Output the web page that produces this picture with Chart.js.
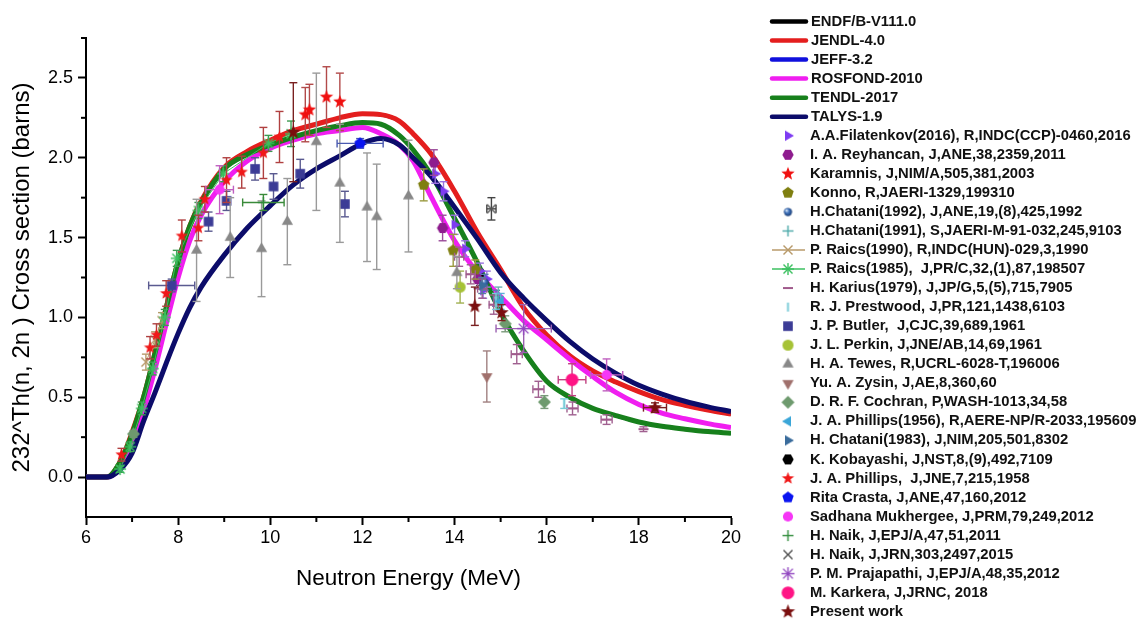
<!DOCTYPE html>
<html><head><meta charset="utf-8">
<script src="https://cdn.jsdelivr.net/npm/chart.js@4.4.1/dist/chart.umd.min.js"></script>
<style>html,body{margin:0;padding:0;background:#fff;}#wrap{position:relative;width:1142px;height:620px;}</style>
</head><body><div id="wrap"><canvas id="c" width="1142" height="620"></canvas></div>
<script>
// ---------- evaluated curves (common energy grid, MeV) ----------
const energyGrid = [6, 6.45, 6.75, 7.0, 7.25, 7.5, 7.75, 8.0, 8.25, 8.5, 9.0, 9.5, 10, 10.5, 11, 11.5, 12, 12.4, 12.8, 13.1, 13.5, 14, 14.5, 15, 15.5, 16, 16.5, 17, 17.5, 18, 18.5, 19, 19.5, 20];
const endfB8   = [0,0,0.1,0.28,0.5,0.78,1.07,1.35,1.57,1.73, 1.94,2.04,2.11,2.17,2.21,2.25,2.275,2.27,2.23,2.15, 2.02,1.79,1.53,1.30,1.06,0.89,0.76,0.665,0.595,0.535, 0.485,0.45,0.42,0.395];
const jendl40  = [0,0,0.1,0.28,0.5,0.78,1.07,1.35,1.57,1.73, 1.94,2.04,2.11,2.17,2.21,2.25,2.275,2.27,2.23,2.15, 2.02,1.79,1.53,1.30,1.06,0.89,0.76,0.665,0.595,0.535, 0.485,0.45,0.42,0.395];
const jeff32   = [0,0,0.1,0.27,0.5,0.78,1.07,1.35,1.57,1.72, 1.93,2.02,2.08,2.13,2.17,2.2,2.22,2.21,2.14,2.05, 1.89,1.62,1.34,1.03,0.79,0.60,0.50,0.43,0.385,0.345, 0.318,0.30,0.285,0.275];
const rosfond  = [0,0,0.06,0.2,0.42,0.68,0.97,1.25,1.48,1.64, 1.85,1.98,2.06,2.11,2.15,2.17,2.19,2.15,2.08,1.98, 1.75,1.48,1.28,1.13,0.98,0.86,0.74,0.63,0.53,0.455, 0.40,0.365,0.335,0.31];
const tendl    = [0,0,0.1,0.27,0.5,0.78,1.07,1.35,1.57,1.72, 1.93,2.02,2.08,2.13,2.17,2.2,2.22,2.21,2.14,2.05, 1.89,1.62,1.34,1.03,0.79,0.60,0.50,0.43,0.385,0.345, 0.318,0.30,0.285,0.275];
const talys    = [0,0,0.05,0.15,0.35,0.53,0.72,0.9,1.06,1.19, 1.39,1.56,1.70,1.83,1.93,2.01,2.09,2.12,2.08,2.0, 1.88,1.69,1.49,1.28,1.12,0.98,0.85,0.74,0.65,0.575, 0.52,0.475,0.44,0.41];

// ---------- experimental data: [E (MeV), sigma (b), dSigma, dE] ----------
const filatenkov = [[13.58,1.90,0.06,0],[13.76,1.79,0.06,0],[14.0,1.58,0.06,0],[14.23,1.43,0.05,0],[14.55,1.29,0.05,0],[14.7,1.24,0.05,0],[14.62,1.17,0.05,0]];
const reyhancan  = [[13.55,1.97,0.08,0],[13.74,1.56,0.08,0],[14.5,1.24,0.06,0]];
const karamnis   = [[10.76,2.27,0.17,0],[10.85,2.30,0.16,0],[11.22,2.38,0.19,0],[11.51,2.35,0.18,0]];
const konno      = [[13.33,1.83,0.1,0],[13.97,1.42,0.1,0],[14.45,1.30,0.06,0]];
const chatani92  = [[14.65,1.22,0.05,0],[14.9,1.12,0.05,0]];
const chatani91  = [[14.95,1.13,0.06,0]];
const raics90    = [[7.3,0.72,0.05,0],[7.5,0.86,0.05,0],[7.65,0.98,0.05,0]];
const raics85    = [[6.74,0.05,0.02,0],[6.96,0.19,0.03,0],[7.21,0.43,0.04,0],[7.45,0.68,0.04,0],[7.71,1.0,0.05,0],[7.97,1.37,0.05,0],[8.44,1.67,0.05,0],[8.98,1.90,0.05,0],[9.96,2.09,0.05,0],[10.45,2.15,0.08,0]];
const karius     = [[14.1,1.38,0.06,0.1],[14.35,1.27,0.06,0.1],[14.6,1.18,0.06,0.1],[14.85,1.08,0.06,0.1],[15.35,0.77,0.06,0.12],[15.82,0.55,0.05,0.12],[16.56,0.43,0.04,0.12],[17.3,0.36,0.03,0.12],[18.1,0.30,0.015,0]];
const prestwood  = [[16.38,0.46,0.03,0],[14.9,1.1,0.05,0]];
const butler     = [[7.86,1.20,0.04,0.5],[8.66,1.60,0.06,0],[9.05,1.73,0.06,0],[9.67,1.93,0.07,0],[10.07,1.82,0.08,0],[10.65,1.90,0.09,0],[11.62,1.71,0.08,0]];
const perkin     = [[14.12,1.19,0.1,0]];
const tewes      = [[8.4,1.42,0.32,0],[9.13,1.50,0.25,0],[9.81,1.43,0.3,0],[10.37,1.60,0.27,0],[11.0,2.10,0.43,0],[11.51,1.84,0.37,0],[12.1,1.69,0.34,0],[12.31,1.63,0.33,0],[13.0,1.76,0.35,0],[14.05,1.28,0.1,0]];
const zysin      = [[14.7,0.63,0.16,0]];
const cochran    = [[7.03,0.27,0.02,0],[15.1,0.96,0.05,0],[15.95,0.47,0.04,0]];
const phillips56 = [[15.0,1.10,0.05,0]];
const chatani83  = [[14.6,1.20,0.05,0]];
const kobayashi  = [[14.55,1.25,0.05,0]];
const phillips58 = [[6.77,0.14,0.04,0],[7.39,0.81,0.07,0],[7.53,0.89,0.07,0],[7.74,1.15,0.08,0],[8.08,1.51,0.1,0],[8.44,1.56,0.08,0],[8.58,1.74,0.08,0],[9.05,1.86,0.14,0],[9.38,1.91,0.1,0],[9.85,2.03,0.16,0],[10.2,2.13,0.16,0]];
const crasta     = [[11.95,2.09,0.03,0.5]];
const mukherjee  = [[8.9,1.80,0.15,0.3],[17.3,0.64,0.1,0.35]];
const naikEPJ    = [[9.85,1.72,0.05,0.45]];
const naikJRN    = [[14.8,1.68,0.07,0.1]];
const prajapathi = [[15.5,0.93,0.15,0.6]];
const karkera    = [[16.55,0.61,0.1,0.3]];
const presentWork= [[10.5,2.16,0.31,0],[14.44,1.07,0.12,0],[15.02,1.03,0.05,0],[18.35,0.435,0.03,0.25]];

// ---------- ticks ----------
const xTicks = [6, 8, 10, 12, 14, 16, 18, 20];
const xMinorTicks = [7, 9, 11, 13, 15, 17, 19];
const yTicks = [0, 0.5, 1.0, 1.5, 2.0, 2.5];
const yMinorTicks = [0.25, 0.75, 1.25, 1.75, 2.25, 2.75];

// ---------- marker images ----------
function makeMarker(shape, col, size) {
  const s = Math.ceil(size + 4);
  const c = document.createElement('canvas');
  c.width = s; c.height = s;
  const g = c.getContext('2d');
  const cx = s / 2, cy = s / 2, r = size / 2;
  g.fillStyle = col; g.strokeStyle = col; g.lineWidth = 1.4;
  const poly = (n, rot, rr) => {
    g.beginPath();
    for (let i = 0; i < n; i++) {
      const a = rot + i * 2 * Math.PI / n;
      const px = cx + rr * Math.cos(a), py = cy + rr * Math.sin(a);
      if (i) g.lineTo(px, py); else g.moveTo(px, py);
    }
    g.closePath(); g.fill();
  };
  const seg = (x1, y1, x2, y2) => { g.beginPath(); g.moveTo(x1, y1); g.lineTo(x2, y2); g.stroke(); };
  switch (shape) {
    case 'triR': poly(3, 0, r); break;
    case 'triL': poly(3, Math.PI, r); break;
    case 'triU': poly(3, -Math.PI / 2, r); break;
    case 'triD': poly(3, Math.PI / 2, r); break;
    case 'hex': poly(6, 0, r * 0.95); break;
    case 'pent': poly(5, -Math.PI / 2, r); break;
    case 'diamond': poly(4, 0, r); break;
    case 'square': g.fillRect(cx - r * 0.8, cy - r * 0.8, r * 1.6, r * 1.6); break;
    case 'circle': g.beginPath(); g.arc(cx, cy, r * 0.85, 0, 2 * Math.PI); g.fill(); break;
    case 'sphere': {
      const gr = g.createRadialGradient(cx - r * 0.3, cy - r * 0.3, 0.5, cx, cy, r * 0.8);
      gr.addColorStop(0, '#cfe0f5'); gr.addColorStop(0.45, col); gr.addColorStop(1, '#1c3c70');
      g.fillStyle = gr; g.beginPath(); g.arc(cx, cy, r * 0.75, 0, 2 * Math.PI); g.fill(); break;
    }
    case 'star5': {
      g.beginPath();
      for (let i = 0; i < 10; i++) {
        const a = -Math.PI / 2 + i * Math.PI / 5;
        const rr = i % 2 ? r * 0.42 : r;
        const px = cx + rr * Math.cos(a), py = cy + rr * Math.sin(a);
        if (i) g.lineTo(px, py); else g.moveTo(px, py);
      }
      g.closePath(); g.fill(); break;
    }
    case 'plus': seg(cx - r, cy, cx + r, cy); seg(cx, cy - r, cx, cy + r); break;
    case 'cross': { const d = r * 0.75; seg(cx - d, cy - d, cx + d, cy + d); seg(cx - d, cy + d, cx + d, cy - d); break; }
    case 'asterisk': {
      const d = r * 0.75;
      seg(cx - d, cy - d, cx + d, cy + d); seg(cx - d, cy + d, cx + d, cy - d);
      seg(cx, cy - r, cx, cy + r); seg(cx - r, cy, cx + r, cy); break;
    }
    case 'dash': g.lineWidth = 2; seg(cx - r, cy, cx + r, cy); break;
    case 'vbar': g.lineWidth = 2; seg(cx, cy - r, cx, cy + r); break;
  }
  return c;
}

// ---------- datasets ----------
// [label, values, colour, draw order, line width]
const curveDefs = [
  ['ENDF/B-V111.0', endfB8,  '#000000', 6, 3.5],
  ['JENDL-4.0',     jendl40, '#E41E1E', 4, 5],
  ['JEFF-3.2',      jeff32,  '#1010DD', 5, 3.5],
  ['ROSFOND-2010',  rosfond, '#F01EF0', 3, 5],
  ['TENDL-2017',    tendl,   '#17801C', 2, 5],
  ['TALYS-1.9',     talys,   '#0C0C6A', 1, 5]
];
const expDefs = [
  ['A.A.Filatenkov(2016), R,INDC(CCP)-0460,2016', filatenkov, 'triR', '#7E3CF2', 12, '#9a70e0'],
  ['I. A. Reyhancan, J,ANE,38,2359,2011', reyhancan, 'hex', '#8E1C8E', 12, '#9a4a9a'],
  ['Karamnis, J,NIM/A,505,381,2003', karamnis, 'star5', '#F01010', 14, '#b24a4a'],
  ['Konno, R,JAERI-1329,199310', konno, 'pent', '#7F7F10', 12, '#9a9a40'],
  ['H.Chatani(1992), J,ANE,19,(8),425,1992', chatani92, 'sphere', '#3A6EB8', 11, '#5a7ab0'],
  ['H.Chatani(1991), S,JAERI-M-91-032,245,9103', chatani91, 'plus', '#4AA8A8', 11, '#6ab0b0'],
  ['P. Raics(1990), R,INDC(HUN)-029,3,1990', raics90, 'cross', '#B89A6A', 12, '#b89a6a', true],
  ['P. Raics(1985),  J,PR/C,32,(1),87,198507', raics85, 'asterisk', '#3CC060', 12, '#3c9a50', true],
  ['H. Karius(1979), J,JP/G,5,(5),715,7905', karius, 'dash', '#A05A8C', 10, '#a06090'],
  ['R. J. Prestwood, J,PR,121,1438,6103', prestwood, 'vbar', '#7CCCD8', 9, '#7cccd8'],
  ['J. P. Butler,  J,CJC,39,689,1961', butler, 'square', '#3C3C96', 12, '#5a5a90'],
  ['J. L. Perkin, J,JNE/AB,14,69,1961', perkin, 'circle', '#A6C236', 13, '#a0b050'],
  ['H. A. Tewes, R,UCRL-6028-T,196006', tewes, 'triU', '#888888', 13, '#9a9a9a'],
  ['Yu. A. Zysin, J,AE,8,360,60', zysin, 'triD', '#A0706C', 13, '#a08080'],
  ['D. R. F. Cochran, P,WASH-1013,34,58', cochran, 'diamond', '#6E9A6E', 13, '#7a9a7a'],
  ['J. A. Phillips(1956), R,AERE-NP/R-2033,195609', phillips56, 'triL', '#3AA6D8', 12, '#5ab0d8'],
  ['H. Chatani(1983), J,NIM,205,501,8302', chatani83, 'triR', '#3A6C9C', 12, '#5a7aa0'],
  ['K. Kobayashi, J,NST,8,(9),492,7109', kobayashi, 'hex', '#000000', 12, '#444444'],
  ['J. A. Phillips,  J,JNE,7,215,1958', phillips58, 'star5', '#F01818', 13, '#b04040'],
  ['Rita Crasta, J,ANE,47,160,2012', crasta, 'pent', '#0A14F0', 12, '#4a5ab0'],
  ['Sadhana Mukhergee, J,PRM,79,249,2012', mukherjee, 'circle', '#F636F6', 12, '#c060c0'],
  ['H. Naik, J,EPJ/A,47,51,2011', naikEPJ, 'plus', '#2E8B3A', 11, '#3a8a3a'],
  ['H. Naik, J,JRN,303,2497,2015', naikJRN, 'cross', '#555555', 12, '#444444'],
  ['P. M. Prajapathi, J,EPJ/A,48,35,2012', prajapathi, 'asterisk', '#9248C0', 13, '#9a60b0'],
  ['M. Karkera, J,JRNC, 2018', karkera, 'circle', '#FF1485', 15, '#c04080'],
  ['Present work', presentWork, 'star5', '#7A0E0E', 15, '#7a2020']
];

const datasets = [];
curveDefs.forEach((d) => {
  datasets.push({
    label: d[0], data: energyGrid.map((e, i) => ({x: e, y: d[1][i]})),
    showLine: true, borderColor: d[2], backgroundColor: d[2], borderWidth: d[4],
    pointRadius: 0, cubicInterpolationMode: 'monotone', order: d[3], legendKind: 'line'
  });
});
expDefs.forEach((d, i) => {
  const img = makeMarker(d[2], d[3], d[4]);
  datasets.push({
    label: d[0], data: d[1].map(r => ({x: r[0], y: r[1]})),
    errRows: d[1], errColor: d[5], markerImg: img,
    pointStyle: img, pointRadius: d[4] / 2, showLine: !!d[6], borderColor: d[3], borderWidth: 1,
    backgroundColor: d[3], order: d[1] === kobayashi ? 0.5 : -i, legendKind: d[6] ? 'lineMarker' : 'marker'
  });
});

// ---------- plugins ----------
const errorBars = {
  id: 'errorBars',
  beforeDatasetDraw(chart, args) {
    const ds = chart.data.datasets[args.index];
    if (!ds.errRows) return;
    const {ctx, chartArea, scales: {x, y}} = chart;
    ctx.save();
    ctx.beginPath(); ctx.rect(chartArea.left, chartArea.top, chartArea.width, chartArea.height); ctx.clip();
    ctx.strokeStyle = ds.errColor; ctx.lineWidth = 1.4;
    const L = (a, b, c, d) => { ctx.beginPath(); ctx.moveTo(a, b); ctx.lineTo(c, d); ctx.stroke(); };
    ds.errRows.forEach(r => {
      const px = x.getPixelForValue(r[0]), py = y.getPixelForValue(r[1]);
      if (r[2]) {
        const t = y.getPixelForValue(r[1] + r[2]), b = y.getPixelForValue(r[1] - r[2]);
        L(px, t, px, b); L(px - 4, t, px + 4, t); L(px - 4, b, px + 4, b);
      }
      if (r[3]) {
        const lft = x.getPixelForValue(r[0] - r[3]), rgt = x.getPixelForValue(r[0] + r[3]);
        L(lft, py, rgt, py); L(lft, py - 4, lft, py + 4); L(rgt, py - 4, rgt, py + 4);
      }
    });
    ctx.restore();
  }
};
const minorTicks = {
  id: 'minorTicks',
  afterDraw(chart) {
    const {ctx, chartArea, scales: {x, y}} = chart;
    ctx.save(); ctx.strokeStyle = '#000'; ctx.lineWidth = 2;
    xMinorTicks.forEach(v => { const p = x.getPixelForValue(v); ctx.beginPath(); ctx.moveTo(p, chartArea.bottom); ctx.lineTo(p, chartArea.bottom + 5); ctx.stroke(); });
    yMinorTicks.forEach(v => { const p = y.getPixelForValue(v); ctx.beginPath(); ctx.moveTo(chartArea.left, p); ctx.lineTo(chartArea.left - 5, p); ctx.stroke(); });
    ctx.restore();
  }
};
const sideLegend = {
  id: 'sideLegend',
  afterDraw(chart) {
    const ctx = chart.ctx;
    ctx.save();
    ctx.font = 'bold 14.8px "Liberation Sans", Arial, sans-serif';
    ctx.textBaseline = 'middle'; ctx.textAlign = 'left';
    chart.data.datasets.forEach((ds, i) => {
      const yy = 21.5 + i * 19.04;
      if (ds.legendKind === 'line') {
        ctx.strokeStyle = ds.borderColor; ctx.lineWidth = 4.5; ctx.lineCap = 'round';
        ctx.beginPath(); ctx.moveTo(772, yy); ctx.lineTo(806, yy); ctx.stroke();
        ctx.fillStyle = '#111'; ctx.fillText(ds.label, 811, yy);
      } else {
        if (ds.legendKind === 'lineMarker') {
          ctx.strokeStyle = ds.borderColor; ctx.lineWidth = 1.5; ctx.lineCap = 'butt';
          ctx.beginPath(); ctx.moveTo(772, yy); ctx.lineTo(805, yy); ctx.stroke();
        }
        const m = ds.markerImg;
        ctx.drawImage(m, 788 - m.width / 2, yy - m.height / 2);
        ctx.fillStyle = '#111'; ctx.fillText(ds.label, 810, yy);
      }
    });
    ctx.restore();
  }
};

const font = '"Liberation Sans", Arial, sans-serif';
new Chart(document.getElementById('c'), {
  type: 'scatter',
  data: {datasets},
  plugins: [errorBars, minorTicks, sideLegend],
  options: {
    responsive: false, animation: false, devicePixelRatio: 1, events: [],
    layout: {padding: {left: 0, right: 411, top: 38, bottom: 0}},
    plugins: {legend: {display: false}, tooltip: {enabled: false}},
    scales: {
      x: {
        type: 'linear', min: 6, max: 20,
        afterBuildTicks: s => { s.ticks = xTicks.map(v => ({value: v})); },
        afterFit: s => { s.height = 103; },
        ticks: {color: '#000', font: {family: font, size: 18}, padding: 2, maxRotation: 0, autoSkip: false, callback: v => String(v)},
        grid: {drawOnChartArea: false, drawTicks: true, tickLength: 8, tickWidth: 2, tickColor: '#000'},
        border: {display: true, color: '#000', width: 2},
        title: {display: true, text: 'Neutron Energy (MeV)', color: '#000', font: {family: font, size: 22.5}, padding: {top: 4, bottom: 28}}
      },
      y: {
        type: 'linear', min: -0.25, max: 2.75,
        afterBuildTicks: s => { s.ticks = yTicks.map(v => ({value: v})); },
        afterFit: s => { s.width = 86; },
        ticks: {color: '#000', font: {family: font, size: 18}, padding: 5, autoSkip: false, callback: v => Number(v).toFixed(1)},
        grid: {drawOnChartArea: false, drawTicks: true, tickLength: 8, tickWidth: 2, tickColor: '#000'},
        border: {display: true, color: '#000', width: 2},
        title: {display: true, text: '232^Th(n, 2n ) Cross section (barns)', color: '#000', font: {family: font, size: 24}, padding: {top: 8, bottom: 0}}
      }
    }
  }
});
</script>
</body></html>
